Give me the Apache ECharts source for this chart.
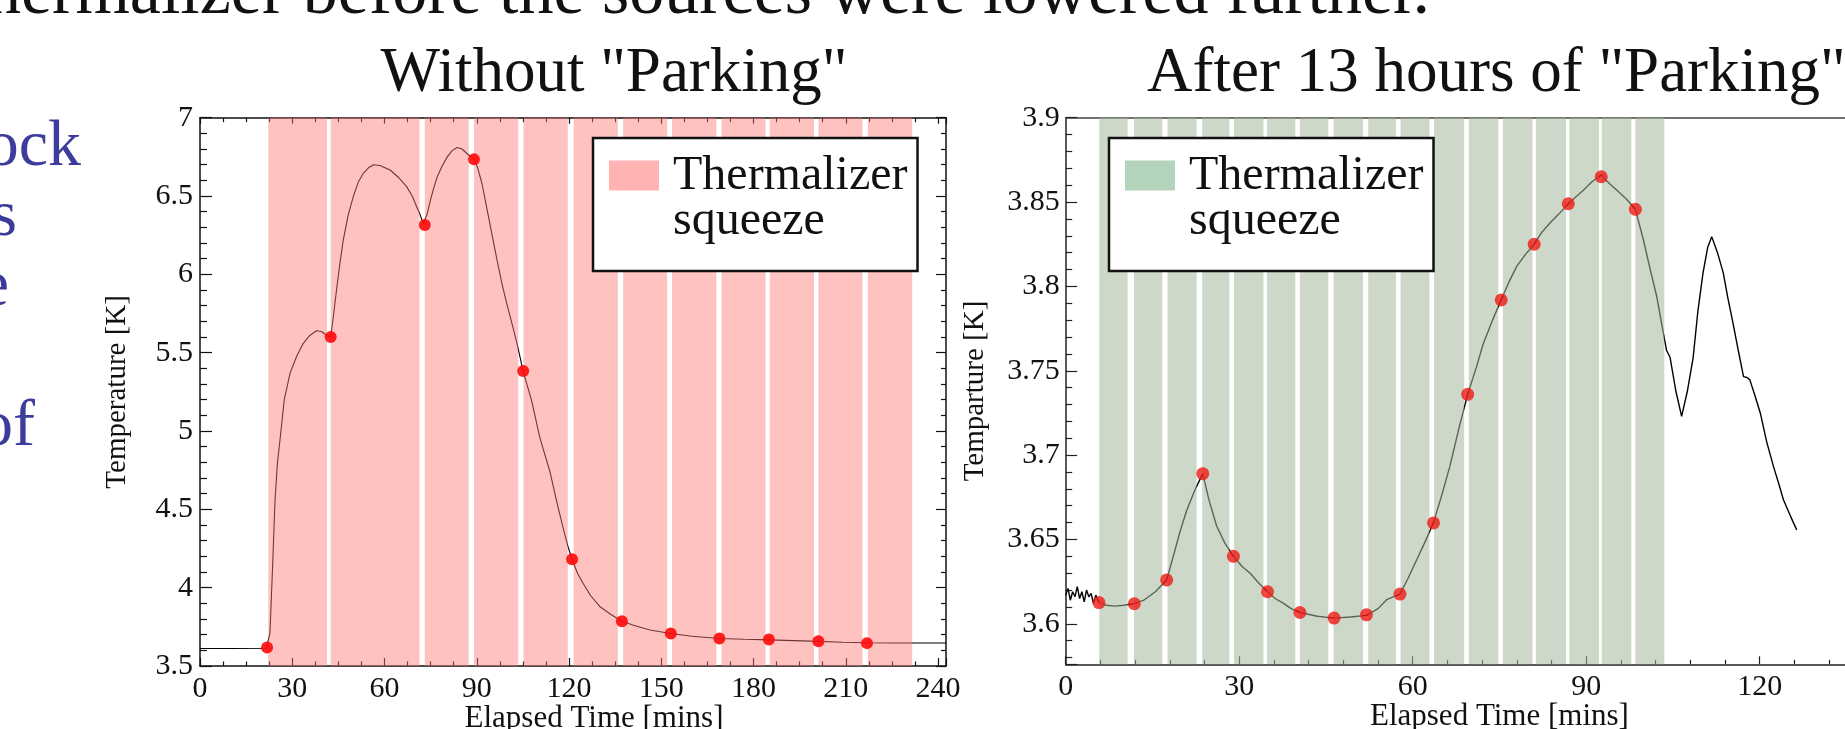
<!DOCTYPE html>
<html>
<head>
<meta charset="utf-8">
<script src="https://cdn.jsdelivr.net/npm/echarts@6/dist/echarts.min.js"></script>
<style>
html, body { margin: 0; padding: 0; background: #fff; }
#chart { width: 1845px; height: 729px; }
</style>
</head>
<body>
<div id="chart"></div>
<script>
var SERIF = '"Liberation Serif", "DejaVu Serif", serif';

// left panel: Without "Parking"
var leftTime = [0, 10, 21.6, 22.2, 22.75, 23.6, 24.4, 25.2, 26, 27.4, 29.3, 31.5, 33.6, 35.7, 37.9, 39.5, 41.2, 42.5, 43.3, 44.4,
    45.5, 46.6, 48.2, 49.9, 51.5, 53.1, 54.8, 56.4, 58.5, 61.8, 64.5, 67.2, 69, 70.5, 71.6, 72.6, 73.1, 73.8, 74.9, 76,
    77.1, 78.7, 80.4, 82, 83.6, 85.2, 86.9, 89.1, 90.3, 91.7, 93.3, 94.9, 96.5, 98.2, 99.8, 101.4, 103.2, 105.1, 107.8, 110.5,
    113.8, 116, 118.1, 119.7, 121, 122.8, 124.6, 127, 130, 133.5, 137.2, 141, 146.3, 153.1, 160, 168.9, 177, 185, 193, 201.1,
    209, 216.9, 225, 233, 242.6];
var leftTemp = [3.612, 3.612, 3.613, 3.62, 3.71, 4.13, 4.56, 4.8, 4.94, 5.2, 5.37, 5.48, 5.56, 5.61, 5.64, 5.635, 5.61, 5.60, 5.72, 5.90,
    6.07, 6.22, 6.38, 6.50, 6.59, 6.645, 6.68, 6.70, 6.695, 6.666, 6.62, 6.56, 6.50, 6.43, 6.38, 6.325, 6.32, 6.38, 6.47, 6.55,
    6.62, 6.69, 6.75, 6.79, 6.81, 6.80, 6.77, 6.734, 6.68, 6.58, 6.42, 6.26, 6.10, 5.94, 5.81, 5.69, 5.55, 5.38, 5.197, 4.96,
    4.74, 4.55, 4.38, 4.26, 4.18, 4.09, 4.027, 3.95, 3.88, 3.83, 3.786, 3.76, 3.73, 3.707, 3.69, 3.676, 3.671, 3.667, 3.662, 3.657,
    3.652, 3.648, 3.647, 3.647, 3.647];
var leftDotTime = [21.8, 42.5, 73.1, 89.1, 105.1, 121, 137.2, 153.1, 168.9, 185, 201.1, 216.9];
var leftDotTemp = [3.618, 5.60, 6.315, 6.734, 5.383, 4.182, 3.786, 3.707, 3.676, 3.669, 3.658, 3.646];
var leftBandStart = [22.2, 42.5, 73.1, 89.1, 105.2, 121.5, 137.6, 153.5, 169.6, 185.3, 201.1, 217.2];
var leftBandEnd = [41.3, 71.4, 87.4, 103.5, 119.6, 135.9, 151.9, 167.9, 183.9, 199.7, 215.4, 231.6];

// right panel: After 13 hours of "Parking"
var rightTime = [0, 0.4, 0.8, 1.2, 1.6, 2.0, 2.4, 2.8, 3.2, 3.6, 4.0, 4.4, 4.8, 5.2,
    5.76, 7, 8.5, 10, 11.86, 13.5, 15.5, 17.46, 18.6, 19.8, 20.9, 22.3, 23.7, 24.8, 26.1, 27.5,
    29.0, 30.5, 31.9, 33.4, 34.9, 36.2, 37.6, 39, 40.5, 43.5, 46.4, 49.2, 52, 54, 55.5, 57.8,
    59.2, 60.7, 62.2, 63.6, 65, 66.4, 68, 69.5, 71, 72.2, 73.8, 75.3, 76.7, 78, 79.5, 81,
    82.3, 83.7, 85.3, 86.9, 88.2, 89.5, 91, 92.6, 94, 95.3, 96.9, 98.5, 99.9, 101, 102.2, 103.2,
    103.9, 104.5, 105.5, 106.5, 107.5, 108.5, 109.3, 110.2, 111, 111.7, 112.7, 113.7, 114.5, 115.4,
    116.3, 117.2, 117.8, 118.3, 119.2, 120.1, 121.2, 122.4, 123.3, 124.1, 125.3, 126.4];
var rightTemp = [3.617, 3.621, 3.614, 3.619, 3.616, 3.622, 3.615, 3.619, 3.613, 3.620, 3.616, 3.618, 3.612, 3.617,
    3.6126, 3.611, 3.6105, 3.611, 3.612, 3.614, 3.619, 3.626, 3.640, 3.655, 3.667, 3.679, 3.689, 3.673, 3.658, 3.648,
    3.640, 3.634, 3.630, 3.624, 3.619, 3.615, 3.6123, 3.609, 3.6067, 3.6045, 3.6034, 3.604, 3.605, 3.609, 3.6143, 3.6176,
    3.627, 3.638, 3.649, 3.66, 3.676, 3.693, 3.716, 3.736, 3.752, 3.766, 3.78, 3.792, 3.803, 3.812, 3.819, 3.825,
    3.832, 3.8374, 3.843, 3.849, 3.853, 3.857, 3.862, 3.866, 3.861, 3.857, 3.852, 3.8457, 3.8275, 3.811, 3.794, 3.775,
    3.762, 3.758, 3.738, 3.723, 3.738, 3.758, 3.785, 3.808, 3.823, 3.8295, 3.82, 3.808, 3.793, 3.778,
    3.762, 3.7465, 3.746, 3.7446, 3.735, 3.725, 3.708, 3.693, 3.683, 3.6735, 3.664, 3.6557];
var rightDotTime = [5.76, 11.86, 17.46, 23.7, 29.0, 34.9, 40.5, 46.4, 52.0, 57.8, 63.6, 69.5, 75.3, 81.0, 86.9, 92.6, 98.5];
var rightDotTemp = [3.6126, 3.6119, 3.626, 3.689, 3.640, 3.619, 3.6067, 3.6034, 3.6053, 3.6176, 3.6598, 3.736, 3.792, 3.825, 3.849, 3.865, 3.8457];
var rightBandStart = [5.8, 11.8, 17.6, 23.6, 29.1, 34.8, 40.5, 46.3, 52.3, 57.9, 63.7, 69.7, 75.6, 81.3, 87.1, 92.7, 98.5];
var rightBandEnd = [10.7, 16.7, 22.65, 28.3, 34.2, 39.7, 45.4, 51.4, 57.1, 62.9, 68.9, 74.8, 80.7, 86.5, 92.2, 97.8, 103.5];

var legendName = 'Thermalizer squeeze';
var slideLine = 'the thermalizer before the sources were lowered further.';
var slideFragments = ['ock', 's', 'e', 'of'];

var pairs = function (xs, ys) { return xs.map(function (x, i) { return [x, ys[i]]; }); };

var bandRender = function (fill) {
    return function (params, api) {
        var cs = params.coordSys;
        var x0 = api.coord([api.value(0), 0])[0];
        var x1 = api.coord([api.value(1), 0])[0];
        return {
            type: 'rect',
            shape: { x: x0, y: cs.y, width: x1 - x0, height: cs.height },
            style: { fill: fill }
        };
    };
};

var tickFont = { fontFamily: SERIF, fontSize: 30, color: '#111' };
var nameFont = { fontFamily: SERIF, fontSize: 31, color: '#111' };
// swatch in the upper part of a taller icon, so the first text line sits beside it
var legendIcon = 'path://M0,0H50V30H0Z M0,75.9H0.1V76H0Z';

var makeLegend = function (left, color) {
    return {
        left: left, top: 138, orient: 'vertical',
        padding: [14, 10, 26, 16],
        backgroundColor: '#fff', borderColor: '#111', borderWidth: 2.5,
        itemWidth: 50, itemHeight: 76, icon: legendIcon,
        selectedMode: false, z: 10,
        data: [{ name: legendName, itemStyle: { color: color, borderWidth: 0 } }],
        formatter: function () { return 'Thermalizer\nsqueeze'; },
        textStyle: { fontFamily: SERIF, fontSize: 48, lineHeight: 45, color: '#111', padding: [0, 0, 0, 9] }
    };
};

var chart = echarts.init(document.getElementById('chart'));
chart.setOption({
    animation: false,
    backgroundColor: '#fff',
    title: [
        { text: 'Without "Parking"', left: 614, top: 43, padding: 0, textAlign: 'center',
          textStyle: { fontFamily: SERIF, fontSize: 63, fontWeight: 'normal', color: '#111' } },
        { text: 'After 13 hours of "Parking"', left: 1147, top: 43, padding: 0,
          textStyle: { fontFamily: SERIF, fontSize: 63, fontWeight: 'normal', color: '#111' } }
    ],
    legend: [makeLegend(593, '#ffb3b3'), makeLegend(1109, '#b3d4bb')],
    grid: [
        { left: 200, top: 117.7, width: 746, height: 548.3, outerBoundsMode: 'none', containLabel: false },
        { left: 1065.7, top: 117.7, width: 867.5, height: 546.6, outerBoundsMode: 'none', containLabel: false }
    ],
    xAxis: [
        { gridIndex: 0, type: 'value', position: 'bottom', min: 0, max: 242.6, interval: 30,
          axisLine: { onZero: false, lineStyle: { color: '#111', width: 1.5 } },
          axisTick: { inside: true, length: 8, lineStyle: { color: '#111', width: 1.2 } },
          minorTick: { show: true, splitNumber: 4, length: 4.5, lineStyle: { color: '#111', width: 1.2 } },
          axisLabel: Object.assign({ margin: 8, showMaxLabel: false }, tickFont),
          splitLine: { show: false },
          name: 'Elapsed Time [mins]', nameLocation: 'middle', nameGap: 37, nameMoveOverlap: false,
          nameTextStyle: Object.assign({ padding: [0, 0, 0, 42] }, nameFont) },
        { gridIndex: 0, type: 'value', position: 'top', min: 0, max: 242.6, interval: 30,
          axisLine: { onZero: false, lineStyle: { color: '#111', width: 1.5 } },
          axisTick: { inside: true, length: 6, lineStyle: { color: '#111', width: 1.2 } },
          minorTick: { show: true, splitNumber: 4, length: 4.5, lineStyle: { color: '#111', width: 1.2 } },
          axisLabel: { show: false }, splitLine: { show: false } },
        { gridIndex: 1, type: 'value', position: 'bottom', min: 0, max: 150, interval: 30,
          axisLine: { onZero: false, lineStyle: { color: '#222', width: 1.5 } },
          axisTick: { inside: true, length: 8, lineStyle: { color: '#222', width: 1.2 } },
          minorTick: { show: true, splitNumber: 5, length: 4.5, lineStyle: { color: '#222', width: 1.2 } },
          axisLabel: Object.assign({ margin: 8 }, tickFont),
          splitLine: { show: false },
          name: 'Elapsed Time [mins]', nameLocation: 'middle', nameGap: 37, nameMoveOverlap: false, nameTextStyle: nameFont },
        { gridIndex: 1, type: 'value', position: 'top', min: 0, max: 150, interval: 30,
          axisLine: { onZero: false, lineStyle: { color: '#444', width: 1.5 } },
          axisTick: { show: false }, axisLabel: { show: false }, splitLine: { show: false } }
    ],
    yAxis: [
        { gridIndex: 0, type: 'value', position: 'left', min: 3.5, max: 7, interval: 0.5,
          axisLine: { show: true, onZero: false, lineStyle: { color: '#111', width: 1.5 } },
          axisTick: { show: true, inside: true, length: 12, lineStyle: { color: '#111', width: 1.2 } },
          minorTick: { show: true, splitNumber: 5, length: 7, lineStyle: { color: '#111', width: 1.2 } },
          axisLabel: Object.assign({ margin: 7 }, tickFont),
          splitLine: { show: false },
          name: 'Temperature [K]', nameLocation: 'middle', nameGap: 68, nameRotate: 90,
          nameTextStyle: Object.assign({}, nameFont, { fontSize: 29 }) },
        { gridIndex: 0, type: 'value', position: 'right', min: 3.5, max: 7, interval: 0.5,
          axisLine: { show: true, onZero: false, lineStyle: { color: '#111', width: 1.5 } },
          axisTick: { show: true, inside: true, length: 10, lineStyle: { color: '#111', width: 1.2 } },
          minorTick: { show: true, splitNumber: 5, length: 5, lineStyle: { color: '#111', width: 1.2 } },
          axisLabel: { show: false }, splitLine: { show: false } },
        { gridIndex: 1, type: 'value', position: 'left', min: 3.576, max: 3.9, splitNumber: 6,
          axisLine: { show: true, onZero: false, lineStyle: { color: '#222', width: 1.5 } },
          axisTick: { show: true, inside: true, length: 11.5, lineStyle: { color: '#222', width: 1.2 } },
          minorTick: { show: true, splitNumber: 5, length: 6.5, lineStyle: { color: '#222', width: 1.2 } },
          axisLabel: Object.assign({ margin: 6, showMinLabel: false }, tickFont),
          splitLine: { show: false },
          name: 'Temparture [K]', nameLocation: 'middle', nameGap: 76, nameRotate: 90,
          nameTextStyle: Object.assign({}, nameFont, { fontSize: 29 }) }
    ],
    series: [
        { type: 'line', xAxisIndex: 0, yAxisIndex: 0, data: pairs(leftTime, leftTemp), showSymbol: false, silent: true,
          lineStyle: { color: '#000', width: 1.1 }, z: 2 },
        { type: 'custom', name: legendName, xAxisIndex: 0, yAxisIndex: 0, data: pairs(leftBandStart, leftBandEnd),
          renderItem: bandRender('rgba(253,122,115,0.45)'), silent: true, z: 3 },
        { type: 'scatter', xAxisIndex: 0, yAxisIndex: 0, data: pairs(leftDotTime, leftDotTemp), symbolSize: 12,
          itemStyle: { color: '#ff0d0d', opacity: 0.92 }, silent: true, z: 4 },
        { type: 'line', xAxisIndex: 2, yAxisIndex: 2, data: pairs(rightTime, rightTemp), showSymbol: false, silent: true,
          lineStyle: { color: '#000', width: 1.4 }, z: 2 },
        { type: 'custom', name: legendName, xAxisIndex: 2, yAxisIndex: 2, data: pairs(rightBandStart, rightBandEnd),
          renderItem: bandRender('rgba(164,184,155,0.55)'), silent: true, z: 3 },
        { type: 'scatter', xAxisIndex: 2, yAxisIndex: 2, data: pairs(rightDotTime, rightDotTemp), symbolSize: 13,
          itemStyle: { color: '#ee1a14', opacity: 0.8 }, silent: true, z: 4 }
    ],
    graphic: [
        { type: 'text', x: 1430, y: 30, style: { text: slideLine, font: '70px ' + SERIF, fill: '#111', align: 'right', verticalAlign: 'bottom' } },
        { type: 'text', x: 81, y: 181, style: { text: slideFragments[0], font: '66px ' + SERIF, fill: '#3c3c9c', align: 'right', verticalAlign: 'bottom' } },
        { type: 'text', x: 17, y: 251, style: { text: slideFragments[1], font: '66px ' + SERIF, fill: '#3c3c9c', align: 'right', verticalAlign: 'bottom' } },
        { type: 'text', x: 9, y: 321, style: { text: slideFragments[2], font: '66px ' + SERIF, fill: '#3c3c9c', align: 'right', verticalAlign: 'bottom' } },
        { type: 'text', x: 35, y: 461, style: { text: slideFragments[3], font: '66px ' + SERIF, fill: '#3c3c9c', align: 'right', verticalAlign: 'bottom' } }
    ]
});
</script>
</body>
</html>
